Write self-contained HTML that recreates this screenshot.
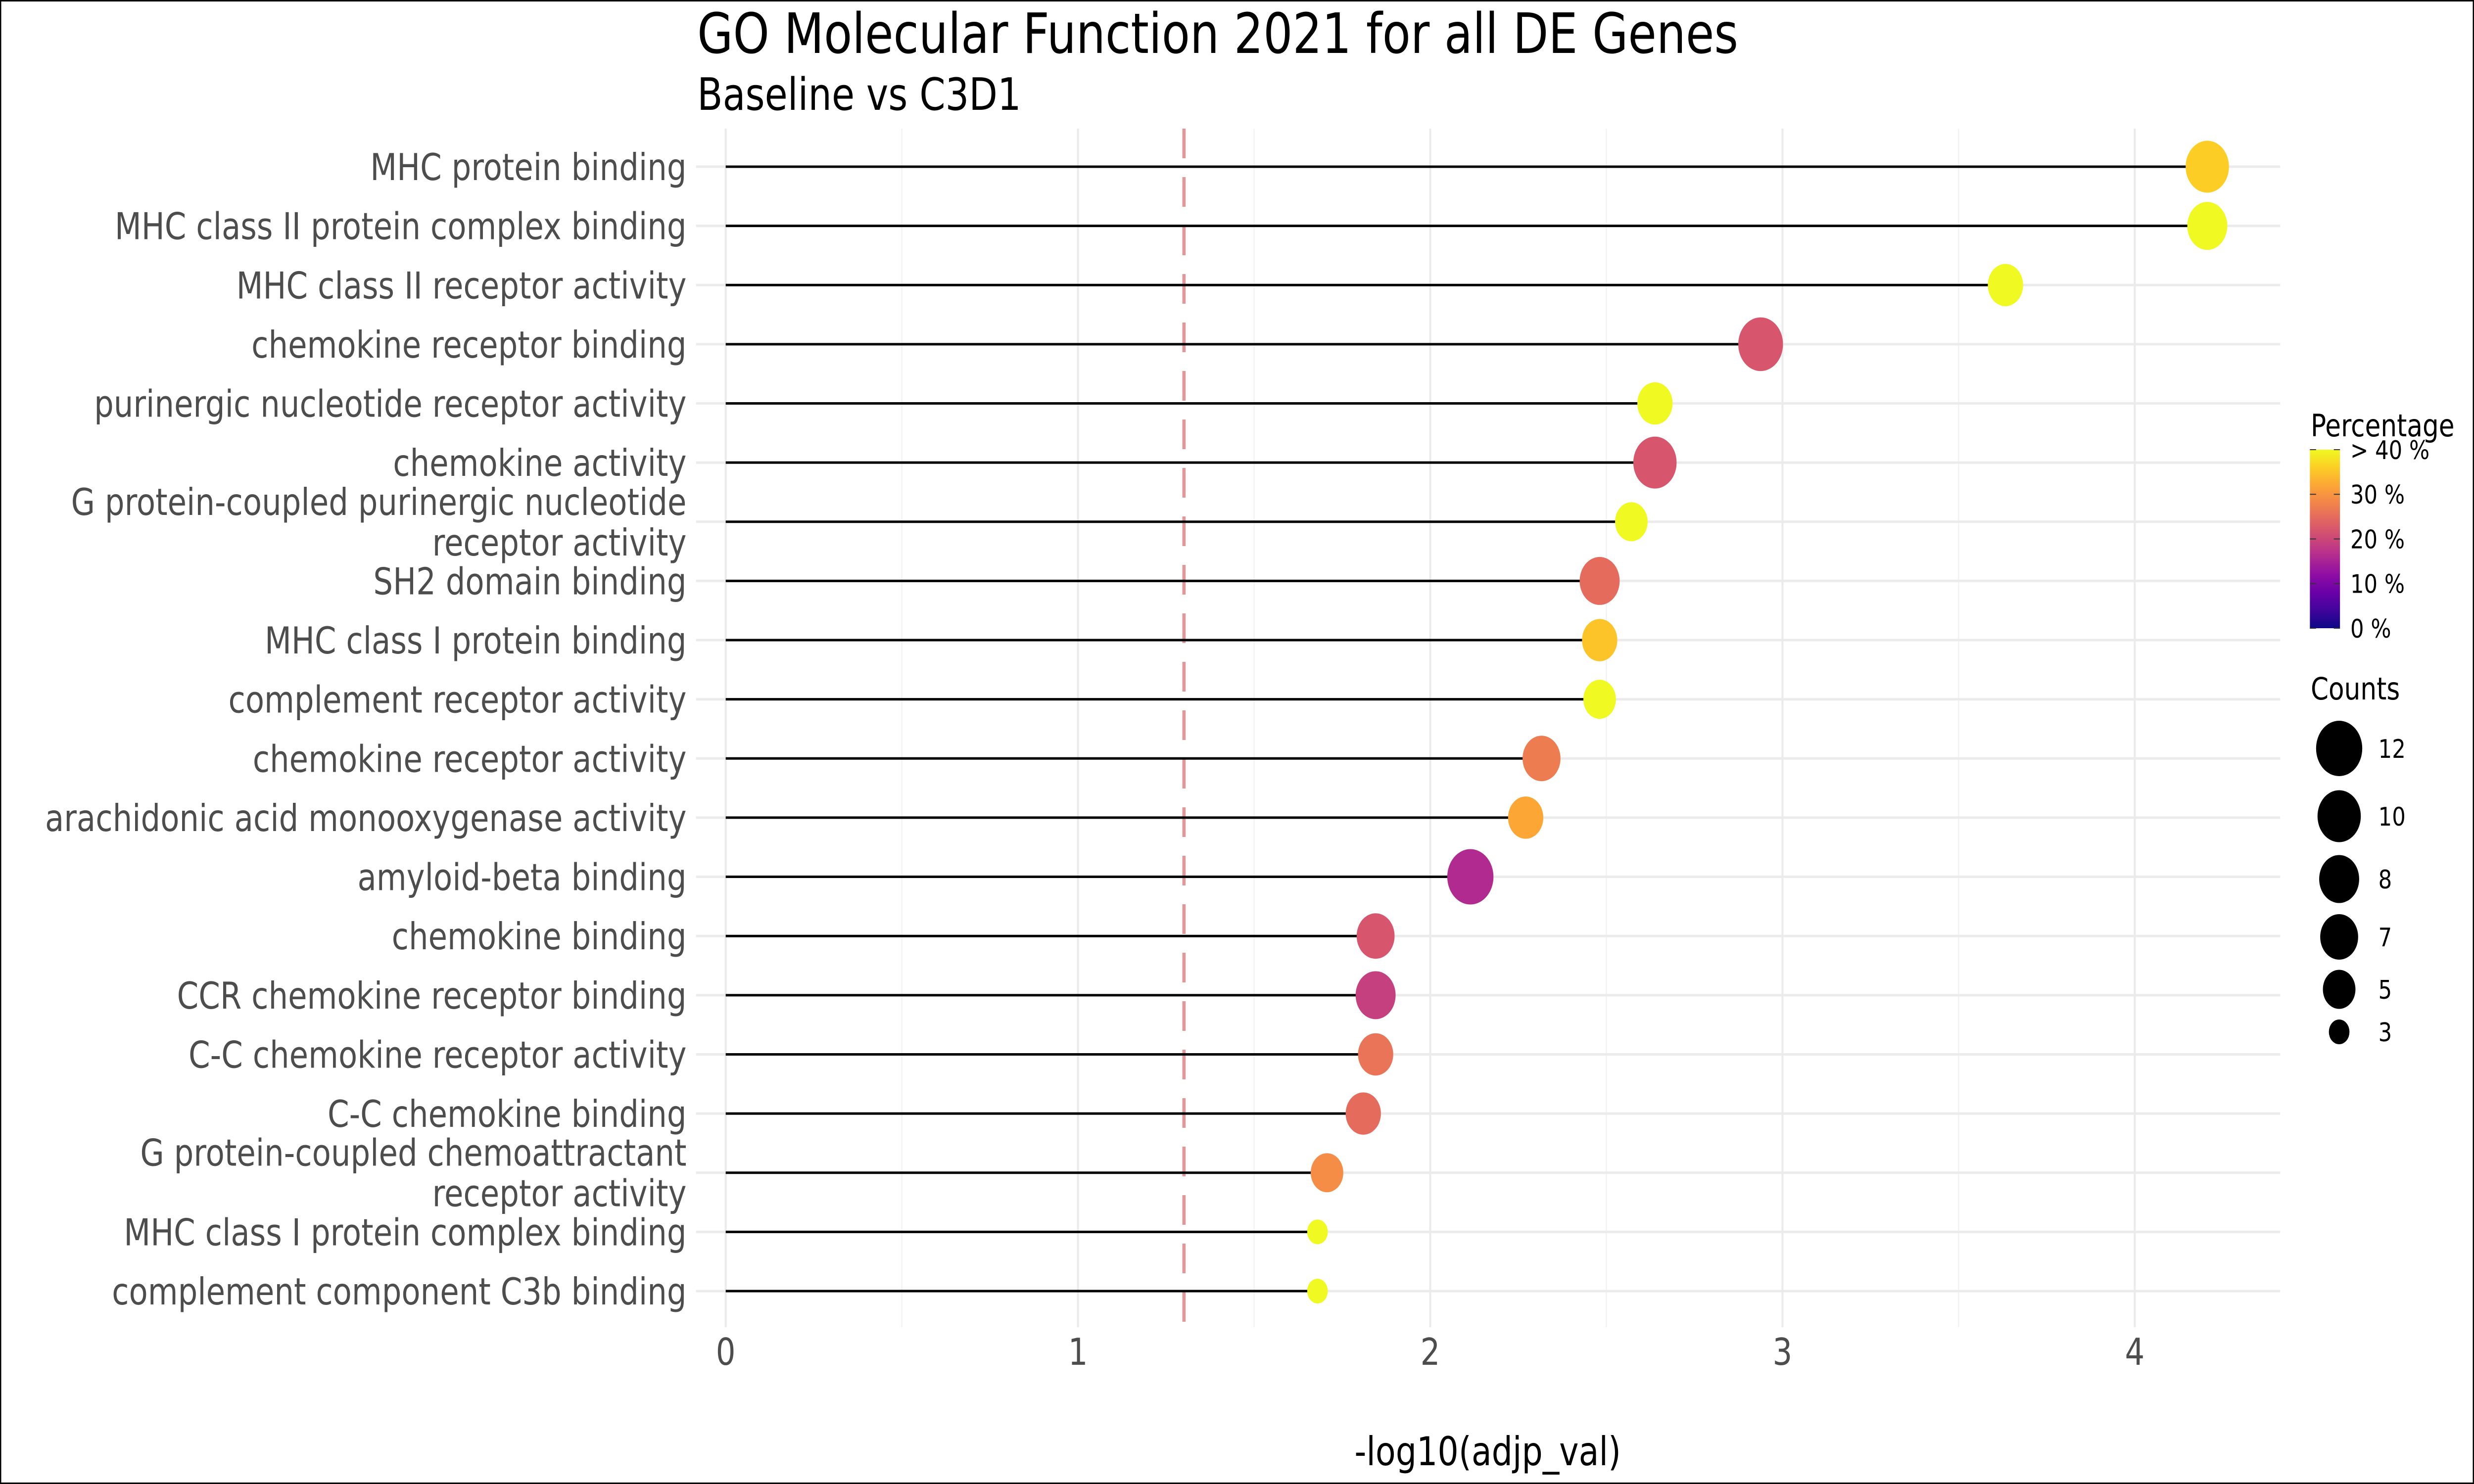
<!DOCTYPE html>
<html><head><meta charset="utf-8">
<meta name="viewport" content="width=6000">
<style>
html,body{margin:0;padding:0;background:#fff;width:100%;height:100%;overflow:hidden;}
svg{display:block;width:100vw;height:100vh;font-family:"DejaVu Sans","Liberation Sans",sans-serif;}
</style></head>
<body>
<svg id="chart" viewBox="0 0 6000 3000" preserveAspectRatio="none" xmlns="http://www.w3.org/2000/svg">
<rect x="1.5" y="1.5" width="5997" height="2997" fill="#fff" stroke="#000" stroke-width="3"/>
<text x="1691" y="107" font-size="112" fill="#000">GO Molecular Function 2021 for all DE Genes</text>
<text x="1691" y="222" font-size="90" fill="#000">Baseline vs C3D1</text>
<g id="grid"></g>
<g id="marks"></g>
<g id="ylabels"></g>
<g id="xlabels"></g>
<text x="3608" y="2962" font-size="80" text-anchor="middle" fill="#000">-log10(adjp_val)</text>
<defs>
<linearGradient id="plasma" x1="0" y1="1" x2="0" y2="0">
<stop offset="0" stop-color="#0d0887"/><stop offset="0.1" stop-color="#41049d"/><stop offset="0.2" stop-color="#6a00a8"/><stop offset="0.3" stop-color="#8f0da4"/><stop offset="0.4" stop-color="#b12a90"/><stop offset="0.5" stop-color="#cc4778"/><stop offset="0.6" stop-color="#e16462"/><stop offset="0.7" stop-color="#f2844b"/><stop offset="0.8" stop-color="#fca636"/><stop offset="0.9" stop-color="#fcce25"/><stop offset="1" stop-color="#f0f921"/>
</linearGradient>
</defs>
<g id="legend">
<text x="5604" y="882" font-size="62" fill="#000">Percentage</text>
<rect x="5602" y="909" width="73" height="361" fill="url(#plasma)"/>
<text x="5604" y="1414" font-size="62" fill="#000">Counts</text>
</g>
</svg>
<script>
const categories = ["MHC protein binding","MHC class II protein complex binding","MHC class II receptor activity","chemokine receptor binding","purinergic nucleotide receptor activity","chemokine activity","G protein-coupled purinergic nucleotide\nreceptor activity","SH2 domain binding","MHC class I protein binding","complement receptor activity","chemokine receptor activity","arachidonic acid monooxygenase activity","amyloid-beta binding","chemokine binding","CCR chemokine receptor binding","C-C chemokine receptor activity","C-C chemokine binding","G protein-coupled chemoattractant\nreceptor activity","MHC class I protein complex binding","complement component C3b binding"];
const values = [4.206,4.206,3.633,2.938,2.638,2.638,2.571,2.481,2.481,2.481,2.316,2.271,2.114,1.845,1.845,1.845,1.810,1.707,1.680,1.680];
const counts = [10,8,6,11,6,10,5,8,6,5,7,6,12,7,8,6,6,5,3,3];
const percentages = [36,40,40,22,40,22,40,25,35,40,27,32,16,22,19,26,25,29,40,40];
const xTicks = [0,1,2,3,4];
const xMinorTicks = [0.5,1.5,2.5,3.5];
const threshold = 1.301;
const pctTicks = [0,10,20,30,40];
const pctTickLabels = ["0 %","10 %","20 %","30 %","> 40 %"];
const sizeBreaks = [3,5,7,8,10,12];
const sizeDiams = [50,79,92,97,105,112];

const NS="http://www.w3.org/2000/svg";
function mk(tag,attrs,parent){const e=document.createElementNS(NS,tag);for(const k in attrs)e.setAttribute(k,attrs[k]);parent.appendChild(e);return e;}
const panelL=1688,panelR=5530,panelT=260,panelB=2683;
const x0=1760,xUnit=854.3;
function xs(v){return x0+v*xUnit;}
const rowTop=337,rowStep=119.63;
function ys(i){return rowTop+i*rowStep;}
function diam(c){
  if(c<=sizeBreaks[0])return sizeDiams[0];
  for(let i=1;i<sizeBreaks.length;i++){if(c<=sizeBreaks[i]){const t=(c-sizeBreaks[i-1])/(sizeBreaks[i]-sizeBreaks[i-1]);return sizeDiams[i-1]+t*(sizeDiams[i]-sizeDiams[i-1]);}}
  return sizeDiams[sizeDiams.length-1];
}
const plasmaStops=["#0d0887","#41049d","#6a00a8","#8f0da4","#b12a90","#cc4778","#e16462","#f2844b","#fca636","#fcce25","#f0f921"];
function hex(h){return [1,3,5].map(i=>parseInt(h.substr(i,2),16));}
function plasma(p){
  let t=Math.max(0,Math.min(1,p/40))*10;const i=Math.min(9,Math.floor(t));const f=t-i;
  const a=hex(plasmaStops[i]),b=hex(plasmaStops[i+1]);
  return "rgb("+a.map((v,k)=>Math.round(v+(b[k]-v)*f)).join(",")+")";
}
const grid=document.getElementById('grid');
xMinorTicks.forEach(v=>{const l=mk('line',{x1:xs(v),x2:xs(v),y1:panelT,y2:panelB,stroke:'#f0f0f0','stroke-width':2.5},grid);

});
xTicks.forEach(v=>{const l=mk('line',{x1:xs(v),x2:xs(v),y1:panelT,y2:panelB,stroke:'#ebebeb','stroke-width':5},grid);

});
categories.forEach((c,i)=>{const l=mk('line',{x1:panelL,x2:panelR,y1:ys(i),y2:ys(i),stroke:'#ebebeb','stroke-width':5},grid);

});
const marks=document.getElementById('marks');
const thr=mk('line',{x1:xs(threshold),x2:xs(threshold),y1:panelT,y2:panelB,stroke:'#e0989a','stroke-width':8,'stroke-dasharray':'60 38'},marks);


values.forEach((v,i)=>{
  const s=mk('line',{x1:xs(0),x2:xs(v),y1:ys(i),y2:ys(i),stroke:'#000','stroke-width':5},marks);
  
  
});
values.forEach((v,i)=>{
  const c=mk('circle',{cx:xs(v),cy:ys(i),r:diam(counts[i])/2,fill:plasma(percentages[i])},marks);
  
  
});
const yl=document.getElementById('ylabels');
categories.forEach((c,i)=>{
  const lines=c.split("\n");
  const t=mk('text',{x:1665,'font-size':75,fill:'#4d4d4d','text-anchor':'end'},yl);
  
  
  const lh=82;const start=ys(i)-(lines.length-1)*lh/2+27;
  lines.forEach((ln,k)=>{const ts=mk('tspan',{x:1665,y:start+k*lh},t);ts.textContent=ln;});
});
const xl=document.getElementById('xlabels');
xTicks.forEach(v=>{const t=mk('text',{x:xs(v),y:2759,'font-size':75,fill:'#4d4d4d','text-anchor':'middle'},xl);


t.textContent=String(v);});
const lg=document.getElementById('legend');
pctTicks.forEach((p,i)=>{
  const y=1270-p/40*361;
  const a=mk('line',{x1:5602,x2:5617,y1:y,y2:y,stroke:'#333','stroke-width':2},lg);
  
  
  const b=mk('line',{x1:5660,x2:5675,y1:y,y2:y,stroke:'#333','stroke-width':2},lg);
  
  
  const t=mk('text',{x:5700,y:y+19,'font-size':52,fill:'#000'},lg);
  
  
  t.textContent=pctTickLabels[i];
});
const legendYs=[2086,2000,1894,1777,1650,1513];
sizeBreaks.forEach((c,i)=>{
  const e=mk('circle',{cx:5673,cy:legendYs[i],r:diam(c)/2,fill:'#000'},lg);
  
  
  const t=mk('text',{x:5768,y:legendYs[i]+19,'font-size':52,fill:'#000'},lg);
  
  
  t.textContent=String(c);
});
</script>
</body></html>
